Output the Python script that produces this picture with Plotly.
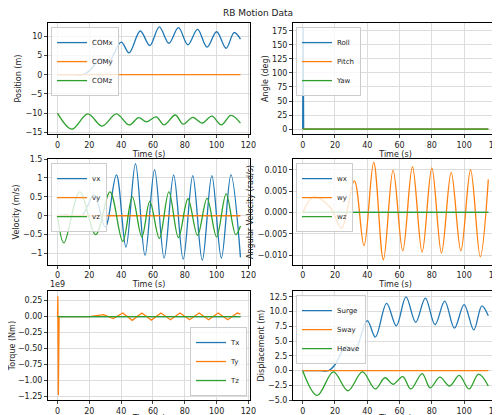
import plotly.graph_objects as go
from plotly.subplots import make_subplots

C = ["#1f77b4", "#ff7f0e", "#2ca02c"]

# surge / COMx (extrema)
t_surge = [0, 10, 16, 20, 27, 32, 40, 45, 52, 58, 64, 70, 76, 82, 88, 94, 100, 106, 111, 115]
surge = [0, 0, 0, 1.0, 4.1, 3.3, 8.5, 5.7, 11.4, 7.6, 12.5, 8.2, 12.3, 7.8, 11.8, 7.2, 11.2, 6.9, 11.0, 9.3]
t_heave = [0, 9, 19, 28, 37, 45, 51, 56, 62, 67, 74, 79, 85, 91, 97, 103, 109, 115]
heave = [0, -4.2, -0.2, -3.4, -0.2, -3.1, -1.2, -2.3, -1.0, -3.1, -0.5, -2.9, -1.1, -2.6, -0.8, -3.1, -0.6, -2.6]
t_flat = [0, 115]
zero = [0, 0]
comz = [h - 10 for h in heave]

t_roll = [0, 0.3, 0.6, 115]
roll = [0, 180, 0, 0]

t_vx = [0, 5, 15, 23, 30, 37, 43, 49, 55, 61, 67, 73, 79, 85, 91, 97, 103, 109, 115]
vx = [0, 0.02, 0, 0.55, -0.3, 1.08, -0.83, 1.38, -1.05, 1.22, -1.12, 1.08, -1.15, 1.06, -1.18, 1.06, -1.12, 1.08, -1.1]
t_vz = [0, 4, 14, 24, 33, 41, 47, 53, 58, 64, 70, 76, 82, 88, 94, 100, 106, 112, 115]
vz = [0, -0.72, 0.63, -0.5, 0.63, -0.68, 0.5, -0.56, 0.38, -0.6, 0.63, -0.58, 0.45, -0.52, 0.46, -0.56, 0.58, -0.5, -0.27]

t_wy = [0, 7, 17, 24, 32, 38, 44, 50, 56, 62, 68, 74, 80, 86, 92, 98, 104, 110, 115]
wy = [0, 0.0037, 0.0012, -0.0037, 0.0074, -0.0078, 0.0117, -0.0111, 0.0099, -0.0090, 0.0107,
      -0.0093, 0.0104, -0.0095, 0.0094, -0.0090, 0.0100, -0.0104, 0.0077]

t_ty = [0, 0.2, 0.5, 1, 20, 29, 35, 41, 47, 53, 59, 65, 71, 77, 83, 89, 95, 101, 107, 113, 115]
ty = [0, 0.32, -1.23, 0, 0, 0.03, -0.03, 0.055, -0.06, 0.055, -0.055, 0.055, -0.05, 0.055,
      -0.05, 0.055, -0.05, 0.055, -0.05, 0.055, 0.04]

fig = make_subplots(rows=3, cols=2)

panels = [
    (1, 1, [("COMx", t_surge, surge), ("COMy", t_flat, zero), ("COMz", t_heave, comz)], "Position (m)", [-15.5, 13.5], 5),
    (1, 2, [("Roll", t_roll, roll), ("Pitch", t_flat, zero), ("Yaw", t_flat, zero)], "Angle (deg)", [-9, 189], 25),
    (2, 1, [("vx", t_vx, vx), ("vy", t_flat, zero), ("vz", t_vz, vz)], "Velocity (m/s)", [-1.3, 1.5], 0.5),
    (2, 2, [("wx", t_flat, zero), ("wy", t_wy, wy), ("wz", t_flat, zero)], "Angular Velocity (rad/s)", [-0.0123, 0.0125], 0.005),
    (3, 1, [("Tx", t_flat, zero), ("Ty", t_ty, ty), ("Tz", t_flat, zero)], "Torque (Nm)", [-1.31, 0.4], 0.25),
    (3, 2, [("Surge", t_surge, surge), ("Sway", t_flat, zero), ("Heave", t_heave, heave)], "Displacement (m)", [-5, 13.5], 2.5),
]

xdom = [[0.08, 0.484], [0.57, 0.98]]
ydom = [[0.696, 0.964], [0.381, 0.636], [0.055, 0.318]]

for i, (r, c, series, ylab, yr, dt) in enumerate(panels):
    leg = "legend" if i == 0 else f"legend{i + 1}"
    for k, (name, t, v) in enumerate(series):
        shape = "linear" if name in ("Roll", "Ty") else "spline"
        fig.add_trace(go.Scatter(x=t, y=v, name=name, mode="lines",
                                 line=dict(color=C[k], width=1.3, shape=shape, smoothing=1.0),
                                 legend=leg), row=r, col=c)
    ax = i + 1
    xs = "xaxis" if ax == 1 else f"xaxis{ax}"
    ys = "yaxis" if ax == 1 else f"yaxis{ax}"
    fig.layout[xs].update(domain=xdom[c - 1], range=[-6, 121], dtick=20,
                          title=dict(text="Time (s)", standoff=0))
    fig.layout[ys].update(domain=ydom[r - 1], range=yr, dtick=dt,
                          title=dict(text=ylab, standoff=2))
    d = fig.layout[ys].domain
    dx = fig.layout[xs].domain
    if ylab == "Torque (Nm)":
        lx, ly, xa, ya = dx[1] - 0.006, d[0] + 0.01, "right", "bottom"
    else:
        lx, ly, xa, ya = dx[0] + 0.006, d[1] - 0.01, "left", "top"
    fig.layout[leg] = dict(x=lx, y=ly, xanchor=xa, yanchor=ya, bgcolor="rgba(255,255,255,0.8)",
                           bordercolor="#cccccc", borderwidth=1, font=dict(size=7),
                           tracegroupgap=0, itemwidth=30)

fig.update_xaxes(showgrid=True, gridcolor="#dddddd", showline=True, linecolor="black", mirror=True,
                 ticks="outside", ticklen=3, zeroline=False, tickfont=dict(size=8),
                 title_font=dict(size=8), automargin=False)
fig.update_yaxes(showgrid=True, gridcolor="#dddddd", showline=True, linecolor="black", mirror=True,
                 ticks="outside", ticklen=3, zeroline=False, tickfont=dict(size=8),
                 title_font=dict(size=8), automargin=False)
fig.layout.yaxis6.tickformat = ".1f"
fig.layout.yaxis5.tickformat = ".2f"
fig.layout.yaxis4.tickformat = ".3f"

fig.add_annotation(text="1e9", x=xdom[0][0], y=ydom[2][1], xref="paper", yref="paper",
                   xanchor="left", yanchor="bottom", showarrow=False, font=dict(size=8))

fig.update_layout(width=500, height=415, margin=dict(l=0, r=0, t=0, b=0, autoexpand=False),
                  paper_bgcolor="white", plot_bgcolor="white",
                  font=dict(family="DejaVu Sans", color="#222"),
                  title=dict(text="RB Motion Data", x=0.5, y=0.995, yanchor="top", font=dict(size=9)))
fig.write_html("out.html")
